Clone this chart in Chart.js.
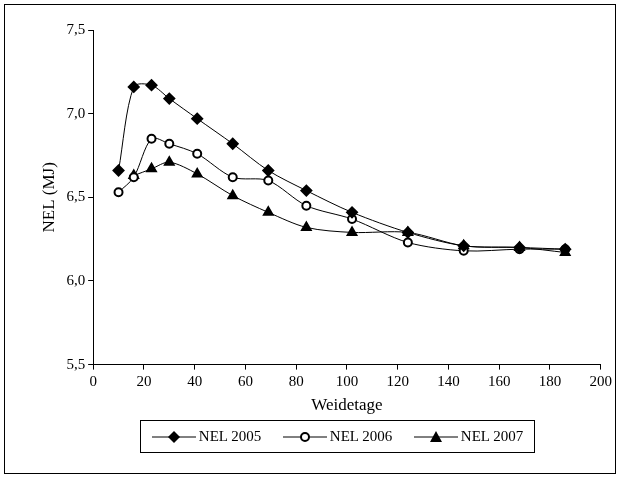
<!DOCTYPE html><html><head><script src="https://cdn.jsdelivr.net/npm/chart.js@4"></script>
<style>body{margin:0;background:#fff;font-family:'Liberation Serif'}#w{position:absolute;left:4px;top:4px;width:612px;height:470px;border:1px solid #000;box-sizing:border-box}
#lg{position:absolute;left:140px;top:420px;width:395px;height:33px;border:1px solid #000;box-sizing:border-box;display:flex;align-items:center;justify-content:space-around;font-size:15px}
#lg span{display:flex;align-items:center;gap:3px}</style></head><body>
<div id="w"><canvas id="c"></canvas></div>
<div id="lg">
<span><svg width="44" height="14"><line x1="0" y1="7" x2="44" y2="7" stroke="#000"/><polygon points="22,1 28,7 22,13 16,7" fill="#000"/></svg>NEL 2005</span>
<span><svg width="44" height="14"><line x1="0" y1="7" x2="44" y2="7" stroke="#000"/><circle cx="22" cy="7" r="4" fill="#fff" stroke="#000" stroke-width="2"/></svg>NEL 2006</span>
<span><svg width="44" height="14"><line x1="0" y1="7" x2="44" y2="7" stroke="#000"/><polygon points="22,1 28,12 16,12" fill="#000"/></svg>NEL 2007</span>
</div>
<script>
const days=[10,16,23,30,41,55,69,84,102,124,146,168,186];
const nel2005=[6.66,7.16,7.17,7.09,6.97,6.82,6.66,6.54,6.41,6.29,6.21,6.20,6.19];
const nel2006=[6.53,6.62,6.85,6.82,6.76,6.62,6.60,6.45,6.37,6.23,6.18,6.19,6.19];
const days2007=[16,23,30,41,55,69,84,102,124,146,168,186];
const nel2007=[6.63,6.67,6.71,6.64,6.51,6.41,6.32,6.29,6.29,6.21,6.20,6.17];
const toXY=(xs,ys)=>xs.map((x,i)=>({x,y:ys[i]}));
Chart.defaults.font.family="'Liberation Serif'";Chart.defaults.font.size=15;Chart.defaults.color='#000';
const base={borderColor:'#000',borderWidth:1,tension:0.3,pointRadius:4,pointHoverRadius:4,pointBorderColor:'#000',pointBorderWidth:2};
const ax={grid:{display:true,drawOnChartArea:false,drawTicks:true,tickLength:5,color:'#000'},border:{color:'#000'}};
new Chart(document.getElementById('c'),{type:'line',data:{datasets:[
{...base,label:'NEL 2005',data:toXY(days,nel2005),pointStyle:'rectRot',backgroundColor:'#000',pointRadius:5},
{...base,label:'NEL 2006',data:toXY(days,nel2006),pointStyle:'circle',backgroundColor:'#fff'},
{...base,label:'NEL 2007',data:toXY(days2007,nel2007),pointStyle:'triangle',backgroundColor:'#000',pointRadius:5}]},
options:{responsive:true,maintainAspectRatio:false,animation:false,layout:{padding:{left:30,right:5,top:25,bottom:57}},
plugins:{legend:{display:false},tooltip:{enabled:false}},
scales:{x:{...ax,type:'linear',min:0,max:200,ticks:{stepSize:20},title:{display:true,text:'Weidetage',font:{size:17},padding:{top:2,bottom:0}}},
y:{...ax,min:5.5,max:7.5,ticks:{stepSize:0.5,callback:v=>v.toFixed(1).replace('.',',')},title:{display:true,text:'NEL (MJ)',font:{size:17}}}}}});
</script></body></html>
